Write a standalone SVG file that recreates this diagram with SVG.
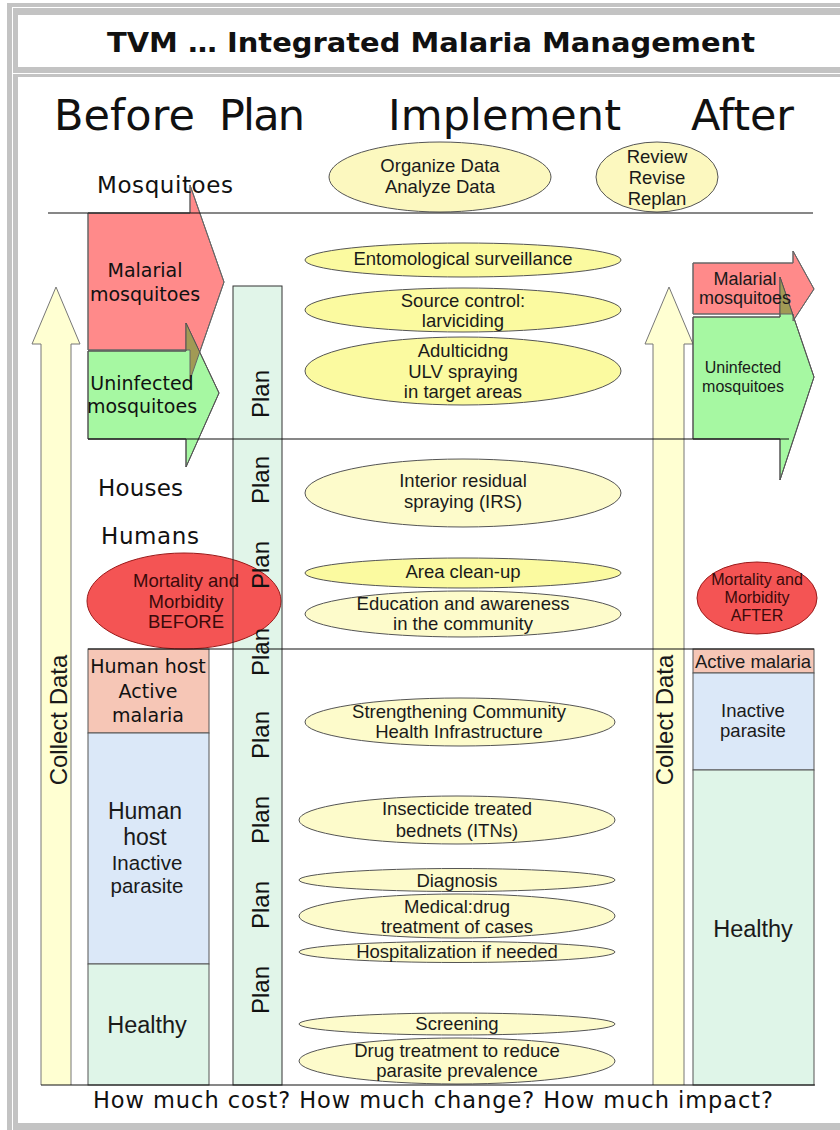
<svg xmlns="http://www.w3.org/2000/svg" xmlns:xlink="http://www.w3.org/1999/xlink" width="840" height="1130" viewBox="0 0 840 1130">
<style>
.dv{font-family:"DejaVu Sans","Verdana",sans-serif;fill:#111}
.lb{font-family:"Liberation Sans",Arial,sans-serif;fill:#1a1a1a}
.el{stroke:#555;stroke-width:1}
.bright{fill:#fbfaa0}
.pale{fill:#fdfbcb}
.mid{fill:#fcf8bf}
.et{font-family:"Liberation Sans",Arial,sans-serif;font-size:18.5px;fill:#1a1a1a;text-anchor:middle}
.cd{fill:#ffffd2;stroke:#777;stroke-width:1}
.red{fill:#ff8a8a;stroke:#666;stroke-width:1}
.grn{fill:#a6f8a2;stroke:#555;stroke-width:1}
.olv{fill:#a19a55}
.div{stroke:#111;stroke-width:1.2;fill:none}
.plan{font-family:"Liberation Sans",Arial,sans-serif;font-size:24px;fill:#111;text-anchor:middle}
.box{stroke:#555;stroke-width:1}
.mm{font-family:"Liberation Sans",Arial,sans-serif;fill:#3a0a0a;text-anchor:middle}
</style>
<defs>
<path id="redL" d="M88,213 H190 V185 L224,282 L190,380 V350 H88 Z"/>
<path id="grnL" d="M88,351 H186 V323 L219,393 L186,467 V439 H88 Z"/>
<path id="redR" d="M693,263 H793 V251 L814,289 L793,321 V314 H693 Z"/>
<path id="grnR" d="M693,317 H780 V277 L814,377 L780,480 V439 H693 Z"/>
<clipPath id="cGL"><use xlink:href="#grnL"/></clipPath>
<clipPath id="cGR"><use xlink:href="#grnR"/></clipPath>
</defs>

<g id="frame">
<rect x="0" y="0" width="840" height="1130" fill="#fff"/>
<rect x="7" y="3" width="840" height="1130" fill="#c3c3c3"/>
<rect x="12" y="7" width="840" height="1130" fill="#fff"/>
<rect x="13" y="8" width="840" height="65" fill="#c3c3c3"/>
<rect x="18" y="15" width="840" height="52" fill="#fff"/>
<rect x="13" y="74" width="840" height="1060" fill="#c3c3c3"/>
<rect x="18" y="77" width="840" height="1046" fill="#fff"/>
</g>

<g id="title">
<text class="dv" x="107" y="52" font-size="27" font-weight="bold" textLength="648" lengthAdjust="spacingAndGlyphs">TVM … Integrated Malaria Management</text>
</g>

<g id="headings" class="dv" font-size="43">
<text class="dv" x="54" y="130" textLength="141">Before</text>
<text class="dv" x="219" y="130" textLength="86">Plan</text>
<text class="dv" x="388" y="130" textLength="233">Implement</text>
<text class="dv" x="691" y="130" textLength="103">After</text>
</g>

<g id="collect-data-left">
<path class="cd" d="M41,1085 V344 H32 L56,287 L80,344 H71 V1085"/>
<text class="lb" font-size="24" text-anchor="middle" transform="translate(67,720) rotate(-90)">Collect Data</text>
</g>
<g id="collect-data-right">
<path class="cd" d="M653,1085 V344 H645 L669,287 L693,344 H684 V1085"/>
<text class="lb" font-size="24" text-anchor="middle" transform="translate(673,720) rotate(-90)">Collect Data</text>
</g>

<rect x="233" y="286" width="49" height="799" fill="#e1f5e9"/>

<g id="before-humans">
<rect class="box" x="88" y="649" width="121" height="84" fill="#f6c6b6"/>
<text class="dv" font-size="19" text-anchor="middle" x="148" y="673">Human host</text>
<text class="dv" font-size="19" text-anchor="middle" x="148" y="698">Active</text>
<text class="dv" font-size="19" text-anchor="middle" x="148" y="722">malaria</text>
<rect class="box" x="88" y="733" width="121" height="231" fill="#dbe8f8"/>
<text class="lb" font-size="23" text-anchor="middle" x="145" y="819">Human</text>
<text class="lb" font-size="23" text-anchor="middle" x="145" y="845">host</text>
<text class="lb" font-size="20.5" text-anchor="middle" x="147" y="870">Inactive</text>
<text class="lb" font-size="20.5" text-anchor="middle" x="147" y="893">parasite</text>
<rect class="box" x="88" y="964" width="121" height="121" fill="#dff5e8"/>
<text class="lb" font-size="23.5" text-anchor="middle" x="147" y="1033">Healthy</text>
</g>

<g id="after-humans">
<rect class="box" x="693" y="649" width="121" height="24" fill="#f6c6b6"/>
<text class="lb" font-size="18.5" text-anchor="middle" x="753" y="668">Active malaria</text>
<rect class="box" x="693" y="673" width="121" height="97" fill="#dbe8f8"/>
<text class="lb" font-size="18.5" text-anchor="middle" x="753" y="717">Inactive</text>
<text class="lb" font-size="18.5" text-anchor="middle" x="753" y="737">parasite</text>
<rect class="box" x="693" y="770" width="121" height="315" fill="#dff5e8"/>
<text class="lb" font-size="23.5" text-anchor="middle" x="753" y="937">Healthy</text>
</g>

<g id="mortality-before">
<ellipse cx="184" cy="601" rx="97" ry="48" fill="#f45454" stroke="#9a1a1a" stroke-width="1"/>
<text class="mm" font-size="18.5" x="186" y="587">Mortality and</text>
<text class="mm" font-size="18.5" x="186" y="608">Morbidity</text>
<text class="mm" font-size="18.5" x="186" y="628">BEFORE</text>
</g>
<g id="mortality-after">
<ellipse cx="757" cy="598" rx="60" ry="36" fill="#f45454" stroke="#9a1a1a" stroke-width="1"/>
<text class="mm" font-size="16" x="757" y="585">Mortality and</text>
<text class="mm" font-size="16" x="757" y="603">Morbidity</text>
<text class="mm" font-size="16" x="757" y="621">AFTER</text>
</g>

<g id="plan-column">
<rect x="233" y="286" width="49" height="799" fill="none" stroke="#333" stroke-width="1"/>
<text class="plan" transform="translate(269,394) rotate(-90)">Plan</text>
<text class="plan" transform="translate(269,480) rotate(-90)">Plan</text>
<text class="plan" transform="translate(269,565) rotate(-90)">Plan</text>
<text class="plan" transform="translate(269,652) rotate(-90)">Plan</text>
<text class="plan" transform="translate(269,735) rotate(-90)">Plan</text>
<text class="plan" transform="translate(269,820) rotate(-90)">Plan</text>
<text class="plan" transform="translate(269,905) rotate(-90)">Plan</text>
<text class="plan" transform="translate(269,990) rotate(-90)">Plan</text>
</g>

<g id="mosquitoes-before">
<use xlink:href="#redL" class="red"/>
<use xlink:href="#grnL" class="grn"/>
<use xlink:href="#redL" class="olv" clip-path="url(#cGL)"/>
<use xlink:href="#redL" fill="none" stroke="#666" stroke-width="1"/>
<use xlink:href="#grnL" fill="none" stroke="#555" stroke-width="1"/>
<text class="dv" font-size="19" text-anchor="middle" x="145" y="277">Malarial</text>
<text class="dv" font-size="19" text-anchor="middle" x="145" y="301">mosquitoes</text>
<text class="dv" font-size="19" text-anchor="middle" x="142" y="390">Uninfected</text>
<text class="dv" font-size="19" text-anchor="middle" x="142" y="413">mosquitoes</text>
</g>

<g id="mosquitoes-after">
<use xlink:href="#redR" class="red"/>
<use xlink:href="#grnR" class="grn"/>
<use xlink:href="#redR" class="olv" clip-path="url(#cGR)"/>
<use xlink:href="#redR" fill="none" stroke="#666" stroke-width="1"/>
<use xlink:href="#grnR" fill="none" stroke="#555" stroke-width="1"/>
<text class="lb" font-size="18" text-anchor="middle" x="745" y="285">Malarial</text>
<text class="lb" font-size="18" text-anchor="middle" x="745" y="304">mosquitoes</text>
<text class="lb" font-size="16" text-anchor="middle" x="743" y="373">Uninfected</text>
<text class="lb" font-size="16" text-anchor="middle" x="743" y="392">mosquitoes</text>
</g>

<g id="organize">
<ellipse class="el mid" cx="440" cy="177" rx="111" ry="35"/>
<text class="et" x="440" y="172">Organize Data</text>
<text class="et" x="440" y="193">Analyze Data</text>
</g>
<g id="review">
<ellipse class="el mid" cx="657" cy="177" rx="61" ry="35"/>
<text class="et" x="657" y="163">Review</text>
<text class="et" x="657" y="184">Revise</text>
<text class="et" x="657" y="205">Replan</text>
</g>
<g id="entomological">
<ellipse class="el bright" cx="463" cy="260" rx="158" ry="17"/>
<text class="et" x="463" y="265">Entomological surveillance</text>
</g>
<g id="source-control">
<ellipse class="el bright" cx="463" cy="310" rx="158" ry="22"/>
<text class="et" x="463" y="307">Source control:</text>
<text class="et" x="463" y="327">larviciding</text>
</g>
<g id="adulticiding">
<ellipse class="el bright" cx="463" cy="371" rx="158" ry="34"/>
<text class="et" x="463" y="357">Adulticidng</text>
<text class="et" x="463" y="378">ULV spraying</text>
<text class="et" x="463" y="398">in target areas</text>
</g>
<g id="irs">
<ellipse class="el pale" cx="463" cy="493" rx="158" ry="34"/>
<text class="et" x="463" y="487">Interior residual</text>
<text class="et" x="463" y="508">spraying (IRS)</text>
</g>
<g id="cleanup">
<ellipse class="el bright" cx="463" cy="573" rx="158" ry="15"/>
<text class="et" x="463" y="578">Area clean-up</text>
</g>
<g id="education">
<ellipse class="el pale" cx="463" cy="614" rx="158" ry="23"/>
<text class="et" x="463" y="610">Education and awareness</text>
<text class="et" x="463" y="630">in the community</text>
</g>
<g id="strengthening">
<ellipse class="el pale" cx="460" cy="722" rx="155" ry="24"/>
<text class="et" x="459" y="718">Strengthening Community</text>
<text class="et" x="459" y="738">Health Infrastructure</text>
</g>
<g id="itn">
<ellipse class="el pale" cx="457" cy="820" rx="158" ry="24"/>
<text class="et" x="457" y="815">Insecticide treated</text>
<text class="et" x="457" y="837">bednets (ITNs)</text>
</g>
<g id="diagnosis">
<ellipse class="el pale" cx="457" cy="880" rx="158" ry="11.5"/>
<text class="et" x="457" y="887">Diagnosis</text>
</g>
<g id="medical">
<ellipse class="el pale" cx="457" cy="916" rx="158" ry="22"/>
<text class="et" x="457" y="913">Medical:drug</text>
<text class="et" x="457" y="933">treatment of cases</text>
</g>
<g id="hospitalization">
<ellipse class="el pale" cx="457" cy="952" rx="158" ry="10.5"/>
<text class="et" x="457" y="958">Hospitalization if needed</text>
</g>
<g id="screening">
<ellipse class="el pale" cx="457" cy="1024" rx="158" ry="11"/>
<text class="et" x="457" y="1030">Screening</text>
</g>
<g id="drug-treatment">
<ellipse class="el pale" cx="457" cy="1061" rx="158" ry="23"/>
<text class="et" x="457" y="1057">Drug treatment to reduce</text>
<text class="et" x="457" y="1077">parasite prevalence</text>
</g>

<g id="connectors">
<line class="div" x1="48" y1="213" x2="813" y2="213"/>
<line class="div" x1="88" y1="439" x2="789" y2="439"/>
<line class="div" x1="88" y1="649" x2="814" y2="649"/>
<line class="div" x1="41" y1="1085" x2="815" y2="1085"/>
</g>

<g id="labels">
<text class="dv" font-size="23" x="97" y="193" textLength="136">Mosquitoes</text>
<text class="dv" font-size="23" x="98" y="496" textLength="85">Houses</text>
<text class="dv" font-size="23" x="101" y="544" textLength="98">Humans</text>
<text class="dv" font-size="22.5" x="93" y="1108" textLength="680">How much cost? How much change? How much impact?</text>
</g>
</svg>
